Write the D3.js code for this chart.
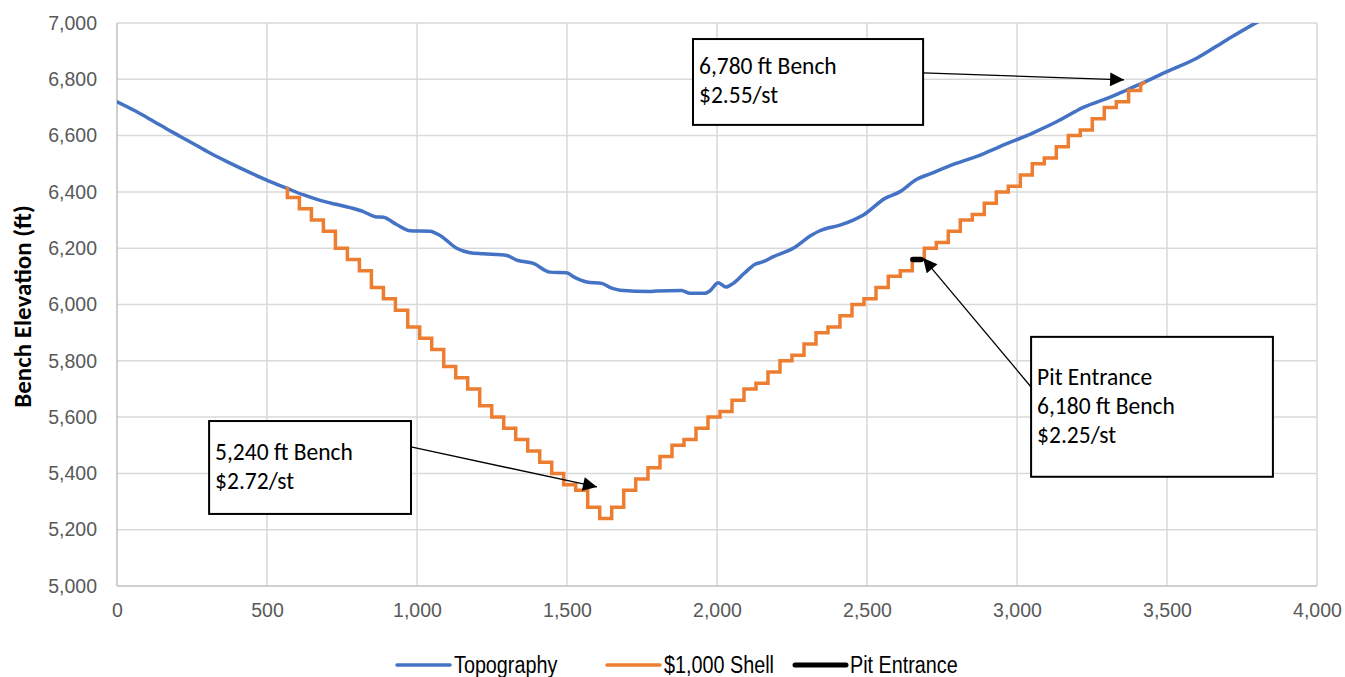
<!DOCTYPE html>
<html><head><meta charset="utf-8">
<script src="https://cdn.jsdelivr.net/npm/d3@7"></script>
<style>
body{margin:0;background:#fff;}
svg{display:block;}
</style></head><body>
<svg id="chart" width="1345" height="677"></svg>
<script>
// ---------------- DATA ----------------
const xTicks = [0, 500, 1000, 1500, 2000, 2500, 3000, 3500, 4000];
const yTicks = [5000, 5200, 5400, 5600, 5800, 6000, 6200, 6400, 6600, 6800, 7000];

// Topography profile (distance, elevation)
const topoX = [0, 60, 120, 180, 240, 310, 377, 440, 499, 566, 620, 677, 730, 777, 821, 860, 888, 932, 977, 1043,
  1077, 1132, 1177, 1221, 1299, 1332, 1388, 1443, 1499, 1521, 1566, 1616, 1649, 1677, 1777, 1799, 1882, 1910, 1960, 1977,
  2004, 2030, 2054, 2090, 2127, 2154, 2188, 2254, 2316, 2343, 2410, 2454, 2488, 2560, 2610, 2666, 2710, 2799, 2871, 2943,
  3054, 3132, 3221, 3321, 3366, 3421, 3499, 3599, 3699, 3804, 3840];
const topoY = [6720, 6688, 6652, 6615, 6580, 6538, 6502, 6470, 6442, 6413, 6390, 6370, 6356, 6344, 6330, 6312, 6310, 6284, 6262, 6260,
  6245, 6200, 6184, 6180, 6174, 6158, 6146, 6115, 6113, 6099, 6080, 6075, 6058, 6051, 6046, 6048, 6050, 6040, 6040, 6049,
  6077, 6062, 6075, 6110, 6143, 6152, 6170, 6200, 6247, 6262, 6282, 6300, 6318, 6377, 6401, 6445, 6464, 6502, 6528, 6561,
  6610, 6649, 6700, 6741, 6762, 6788, 6827, 6875, 6940, 7005, 7025];

// $1,000 shell: bench column left edges and bench elevations
const shellColX = [568, 608, 648, 688, 728, 768, 808, 848, 888, 928, 969, 1009, 1049, 1089, 1129, 1169, 1209, 1249, 1289, 1329,
  1369, 1409, 1449, 1489, 1529, 1569, 1609, 1649, 1689, 1729, 1770, 1810, 1850, 1890, 1930, 1970, 2010, 2050, 2090, 2130,
  2170, 2210, 2250, 2290, 2330, 2370, 2410, 2450, 2490, 2530, 2571, 2611, 2651, 2691, 2731, 2771, 2811, 2851, 2891, 2931,
  2971, 3011, 3051, 3091, 3131, 3171, 3211, 3251, 3291, 3331, 3372, 3412];
const shellElev = [6380, 6340, 6300, 6260, 6200, 6160, 6120, 6060, 6020, 5980, 5920, 5880, 5840, 5780, 5740, 5700, 5640, 5600, 5560, 5520,
  5480, 5440, 5400, 5360, 5340, 5280, 5240, 5280, 5340, 5380, 5420, 5460, 5500, 5520, 5560, 5600, 5620, 5660, 5700, 5720,
  5760, 5800, 5820, 5860, 5900, 5920, 5960, 6000, 6020, 6060, 6100, 6120, 6160, 6200, 6220, 6260, 6300, 6320, 6360, 6400,
  6420, 6460, 6500, 6520, 6560, 6600, 6620, 6660, 6700, 6720, 6760, 6780];
const shellStart = [568, 6418];
const shellEnd = [3428, 6790];

// Pit entrance
const pitX = [2653, 2680];
const pitY = [6160, 6160];

// Legend
const seriesNames = ["Topography", "$1,000 Shell", "Pit Entrance"];
const seriesColors = ["#4472C4", "#ED7D31", "#000000"];

// Annotations (data coordinates)
const notes = [
  {lines: ["5,240 ft Bench", "$2.72/st"], box: [307, 5586, 980, 5256], from: [980, 5494], to: [1600, 5352]},
  {lines: ["Pit Entrance", "6,180 ft Bench", "$2.25/st"], box: [3047, 5885, 3853, 5388], from: [3047, 5707], to: [2687, 6165]},
  {lines: ["6,780 ft Bench", "$2.55/st"], box: [1920, 6943, 2687, 6638], from: [2687, 6823], to: [3357, 6798]}
];

// ---------------- CHART ----------------
const svg = d3.select("#chart");
const plot = {left: 117, right: 1317, top: 23, bottom: 586};
const x = d3.scaleLinear().domain([0, 4000]).range([plot.left, plot.right]);
const y = d3.scaleLinear().domain([5000, 7000]).range([plot.bottom, plot.top]);

const tickFont = "'Liberation Sans', Arial, sans-serif";
const calFont = "Carlito, Calibri, Lato, 'Open Sans', sans-serif";

// gridlines
svg.append("g").selectAll("line.h").data(yTicks.filter(d => d > 5000)).join("line")
  .attr("x1", plot.left).attr("x2", plot.right)
  .attr("y1", d => y(d)).attr("y2", d => y(d))
  .attr("stroke", "#d9d9d9").attr("stroke-width", 1.5);
svg.append("g").selectAll("line.v").data(xTicks.filter(d => d > 0)).join("line")
  .attr("x1", d => x(d)).attr("x2", d => x(d))
  .attr("y1", plot.top).attr("y2", plot.bottom)
  .attr("stroke", "#d9d9d9").attr("stroke-width", 1.5);
// axis lines
svg.append("line").attr("x1", plot.left).attr("x2", plot.right).attr("y1", y(5000)).attr("y2", y(5000))
  .attr("stroke", "#bfbfbf").attr("stroke-width", 1.5);
svg.append("line").attr("x1", x(0)).attr("x2", x(0)).attr("y1", plot.top).attr("y2", plot.bottom)
  .attr("stroke", "#bfbfbf").attr("stroke-width", 1.5);

// axes via d3 axis
const yAxis = d3.axisLeft(y).tickValues(yTicks).tickFormat(d3.format(",")).tickSize(0).tickPadding(20);
const gy = svg.append("g").attr("transform", `translate(${plot.left},0)`).call(yAxis);
gy.select(".domain").remove();
gy.selectAll("text").attr("font-family", tickFont).attr("font-size", 19.5).attr("fill", "#595959");

const xAxis = d3.axisBottom(x).tickValues(xTicks).tickFormat(d3.format(",")).tickSize(0).tickPadding(17);
const gx = svg.append("g").attr("transform", `translate(0,${plot.bottom})`).call(xAxis);
gx.select(".domain").remove();
gx.selectAll("text").attr("font-family", tickFont).attr("font-size", 19.5).attr("fill", "#595959");

// y title
svg.append("text").attr("transform", `translate(31,${(plot.top + plot.bottom) / 2 + 2}) rotate(-90)`)
  .attr("text-anchor", "middle").attr("font-family", calFont).attr("font-weight", "bold")
  .attr("font-size", 25).attr("fill", "#000").text("Bench Elevation (ft)");

// clip
svg.append("clipPath").attr("id", "clip").append("rect")
  .attr("x", plot.left).attr("y", plot.top).attr("width", plot.right - plot.left).attr("height", plot.bottom - plot.top);

const line = d3.line().x(d => x(d[0])).y(d => y(d[1]));

// topography
const topo = topoX.map((d, i) => [d, topoY[i]]);
svg.append("path").attr("clip-path", "url(#clip)").attr("d", line.curve(d3.curveMonotoneX)(topo))
  .attr("fill", "none").attr("stroke", seriesColors[0]).attr("stroke-width", 3.5)
  .attr("stroke-linejoin", "round").attr("stroke-linecap", "round");
line.curve(d3.curveLinear);

// shell
const shell = [shellStart];
shellColX.forEach((cx, i) => {
  shell.push([cx, shellElev[i]]);
  if (i < shellColX.length - 1) shell.push([shellColX[i + 1], shellElev[i]]);
});
shell.push(shellEnd);
svg.append("path").attr("d", line(shell))
  .attr("fill", "none").attr("stroke", seriesColors[1]).attr("stroke-width", 3.5)
  .attr("stroke-linejoin", "miter").attr("stroke-linecap", "butt");

// pit entrance
svg.append("path").attr("d", line(pitX.map((d, i) => [d, pitY[i]])))
  .attr("fill", "none").attr("stroke", seriesColors[2]).attr("stroke-width", 5.5)
  .attr("stroke-linecap", "round");

// arrow marker
svg.append("defs").append("marker").attr("id", "arrow")
  .attr("viewBox", "0 0 10 10").attr("refX", 10).attr("refY", 5)
  .attr("markerWidth", 15).attr("markerHeight", 14).attr("markerUnits", "userSpaceOnUse")
  .attr("orient", "auto")
  .append("path").attr("d", "M0,0 L10,5 L0,10 Z").attr("fill", "#000");

// annotations
notes.forEach(n => {
  const x0 = x(n.box[0]), y0 = y(n.box[1]), x1 = x(n.box[2]), y1 = y(n.box[3]);
  svg.append("line").attr("x1", x(n.from[0])).attr("y1", y(n.from[1]))
    .attr("x2", x(n.to[0])).attr("y2", y(n.to[1]))
    .attr("stroke", "#000").attr("stroke-width", 1.3).attr("marker-end", "url(#arrow)");
  svg.append("rect").attr("x", x0).attr("y", y0).attr("width", x1 - x0).attr("height", y1 - y0)
    .attr("fill", "#fff").attr("stroke", "#000").attr("stroke-width", 2);
  const lh = 29;
  const cy = (y0 + y1) / 2;
  const first = cy - (n.lines.length - 1) * lh / 2;
  n.lines.forEach((t, i) => {
    svg.append("text").attr("x", x0 + 6).attr("y", first + i * lh + 7)
      .attr("font-family", calFont).attr("font-size", 23.5).attr("fill", "#000").text(t);
  });
});

// legend
const legX = [397, 607, 795];
const legW = [53, 53, 51];
const legY = 665;
seriesNames.forEach((name, i) => {
  svg.append("line").attr("x1", legX[i]).attr("x2", legX[i] + legW[i]).attr("y1", legY).attr("y2", legY)
    .attr("stroke", seriesColors[i]).attr("stroke-width", i === 2 ? 5 : 3.5).attr("stroke-linecap", "round");
  svg.append("text").attr("transform", `translate(${legX[i] + legW[i] + 4},${legY + 8}) scale(0.86,1)`)
    .attr("font-family", "'Liberation Sans Narrow', 'Arial Narrow', 'Liberation Sans', sans-serif")
    .attr("font-size", 23).attr("fill", "#000").text(name);
});
</script>
</body></html>
